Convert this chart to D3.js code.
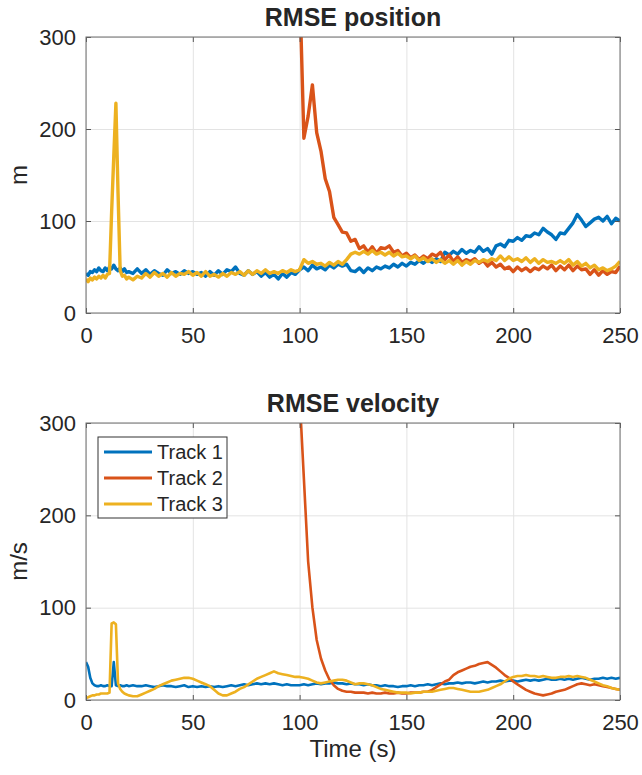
<!DOCTYPE html>
<html>
<head>
<meta charset="utf-8">
<script src="https://cdn.jsdelivr.net/npm/d3@7"></script>
<style>
body { margin: 0; background: #fff; }
text { font-family: "Liberation Sans", Arial, Helvetica, sans-serif; fill: #262626; }
</style>
</head>
<body>
<div id="chart"></div>
<script>
// time grid: 1 s steps for the first 20 s, then 2 s steps
var time = d3.range(0, 20, 1).concat(d3.range(20, 251, 2));
// track 2 only starts at 100 s
var time2 = d3.range(100, 251, 2);

var trackNames = ["Track 1", "Track 2", "Track 3"];
var xTicks = [0, 50, 100, 150, 200, 250];
var yTicks = [0, 100, 200, 300];

// RMSE position (m)
var pos1 = [43, 41, 45, 44, 47, 45, 49, 46, 45, 49, 46, 50, 48, 52, 48, 46, 49, 45, 48, 44,
    45, 43, 48, 43, 47, 42, 46, 43, 41, 47,
    43, 45, 42, 46, 43, 45, 42, 44, 40, 45,
    41, 46, 42, 47, 45, 50, 43, 41, 46, 42,
    45, 40, 44, 39, 42, 37, 43, 39, 44, 42,
    47, 50, 46, 52, 48, 50, 47, 52, 49, 53,
    51, 53, 46, 45, 49, 44, 49, 46, 50, 48,
    51, 49, 53, 50, 54, 51, 55, 53, 57, 54,
    58, 55, 59, 56, 66, 63, 67, 64, 69, 65,
    68, 66, 72, 67, 70, 64, 73, 75, 72, 79,
    78, 82, 79, 84, 83, 87, 85, 92, 88, 85,
    80, 87, 86, 92, 98, 107, 101, 94, 98, 102,
    104, 100, 105, 97, 103, 100];
var pos2 = [360, 190, 214, 248, 196, 176, 146, 132, 104, 96,
    88, 87, 78, 80, 70, 73, 66, 72, 65, 71,
    70, 73, 66, 68, 62, 65, 60, 63, 58, 62,
    59, 64, 62, 66, 58, 63, 56, 61, 55, 58,
    56, 59, 54, 57, 51, 55, 50, 53, 48, 50,
    45, 50, 46, 49, 45, 49, 47, 51, 48, 52,
    46, 51, 47, 52, 46, 51, 47, 48, 42, 47,
    41, 46, 42, 45, 44, 51];
var pos3 = [37, 34, 38, 36, 39, 37, 40, 38, 41, 38, 42, 43, 110, 170, 228, 130, 46, 40, 41, 37,
    39, 36, 40, 38, 43, 39, 44, 40, 43, 39,
    44, 40, 43, 42, 45, 41, 44, 40, 45, 40,
    42, 39, 43, 40, 44, 42, 45, 41, 46, 42,
    46, 43, 47, 43, 45, 43, 46, 44, 47, 45,
    47, 58, 54, 56, 53, 54, 51, 55, 52, 56,
    53, 58, 64, 66, 64, 67, 64, 68, 64, 66,
    63, 66, 62, 65, 61, 62, 59, 62, 57, 60,
    56, 59, 55, 58, 54, 57, 53, 57, 52, 56,
    53, 57, 55, 58, 56, 59, 57, 62, 57, 61,
    57, 59, 56, 60, 55, 59, 54, 58, 55, 56,
    54, 57, 54, 58, 52, 56, 51, 54, 49, 52,
    47, 49, 46, 48, 51, 56];

// RMSE velocity (m/s)
var vel1 = [41, 36, 24, 18, 16, 15, 15, 16, 15, 15, 16, 15, 15, 41, 16, 15, 16, 15, 15, 16,
    15, 16, 15, 15, 16, 15, 14, 15, 16, 15,
    15, 14, 15, 16, 14, 15, 14, 15, 14, 15,
    14, 15, 14, 15, 16, 15, 16, 17, 16, 17,
    18, 17, 18, 17, 18, 17, 16, 17, 16, 16,
    16, 17, 16, 17, 18, 17, 18, 18, 19, 18,
    18, 17, 18, 17, 17, 16, 17, 16, 16, 15,
    16, 15, 15, 14, 15, 15, 16, 15, 16, 16,
    17, 16, 17, 18, 17, 18, 18, 19, 18, 19,
    19, 18, 19, 20, 19, 20, 20, 21, 20, 21,
    21, 20, 21, 22, 21, 22, 21, 22, 23, 22,
    22, 23, 22, 23, 22, 23, 24, 23, 22, 23,
    23, 24, 23, 24, 23, 24];
var vel2 = [330, 240, 150, 100, 65, 45, 32, 22, 16, 12,
    10, 9, 9, 8, 8, 8, 7, 8, 7, 7,
    8, 7, 7, 8, 7, 7, 8, 8, 8, 9,
    9, 11, 14, 17, 20, 22, 27, 30, 32, 34,
    36, 37, 39, 40, 41, 38, 35, 31, 27, 24,
    20, 17, 14, 11, 9, 7, 6, 5, 6, 7,
    9, 10, 11, 13, 15, 17, 18, 17, 16, 17,
    16, 15, 14, 13, 12, 11];
var vel3 = [2, 3, 4, 5, 5, 6, 6, 7, 7, 7, 7, 8, 83, 84, 82, 18, 12, 9, 7, 6,
    5, 4, 4, 6, 8, 10, 12, 15, 17, 19,
    21, 22, 23, 24, 24, 23, 21, 19, 17, 15,
    11, 7, 5, 5, 7, 9, 12, 14, 17, 20,
    23, 25, 27, 29, 31, 29, 28, 27, 26, 25,
    25, 24, 23, 21, 19, 18, 19, 20, 21, 22,
    22, 21, 19, 17, 18, 18, 17, 16, 14, 12,
    11, 10, 9, 8, 8, 8, 7, 8, 8, 9,
    9, 9, 10, 11, 12, 13, 13, 12, 11, 10,
    9, 9, 9, 10, 11, 13, 15, 17, 20, 23,
    25, 26, 26, 27, 26, 26, 25, 26, 25, 24,
    24, 25, 25, 26, 25, 26, 25, 24, 22, 20,
    18, 16, 15, 13, 12, 11];

var colors = ["#0072BD", "#D95319", "#EDB120"];

var svgWidth = 642, svgHeight = 775;
var plotLeft = 86, plotRight = 620;

var panels = [
    { title: "RMSE position", ylabel: "m", top: 37, bottom: 313, lw: 3.4,
      series: [[time, pos1], [time2, pos2], [time, pos3]], legend: false },
    { title: "RMSE velocity", ylabel: "m/s", top: 423, bottom: 700, lw: 2.6,
      series: [[time, vel1], [time2, vel2], [time, vel3]], legend: true }
];

var svg = d3.select("#chart")
    .append("svg")
    .attr("width", svgWidth)
    .attr("height", svgHeight);

var x = d3.scaleLinear().domain([0, 250]).range([plotLeft, plotRight]);

panels.forEach(function (p, pi) {
    var y = d3.scaleLinear().domain([0, 300]).range([p.bottom, p.top]);
    var h = p.bottom - p.top;
    var g = svg.append("g");

    // grid
    var gx = g.append("g")
        .attr("transform", "translate(0," + p.bottom + ")")
        .call(d3.axisBottom(x).tickValues(xTicks).tickSize(-h).tickFormat(""));
    var gy = g.append("g")
        .attr("transform", "translate(" + plotLeft + ",0)")
        .call(d3.axisLeft(y).tickValues(yTicks).tickSize(-(plotRight - plotLeft)).tickFormat(""));
    [gx, gy].forEach(function (a) {
        a.select(".domain").remove();
        a.selectAll("line").attr("stroke", "#e3e3e3").attr("stroke-width", 1);
    });

    // clip
    svg.append("clipPath").attr("id", "clip" + pi)
        .append("rect")
        .attr("x", plotLeft).attr("y", p.top)
        .attr("width", plotRight - plotLeft).attr("height", h);

    var line = d3.line()
        .x(function (d) { return x(d[0]); })
        .y(function (d) { return y(d[1]); });

    p.series.forEach(function (s, si) {
        var pts = s[0].map(function (t, i) { return [t, s[1][i]]; });
        g.append("path")
            .datum(pts)
            .attr("clip-path", "url(#clip" + pi + ")")
            .attr("fill", "none")
            .attr("stroke", colors[si])
            .attr("stroke-width", p.lw)
            .attr("stroke-linejoin", "round")
            .attr("d", line);
    });

    // axes (ticks inward on all sides)
    var ab = g.append("g")
        .attr("transform", "translate(0," + p.bottom + ")")
        .call(d3.axisBottom(x).tickValues(xTicks).tickSize(-5).tickPadding(14));
    var at = g.append("g")
        .attr("transform", "translate(0," + p.top + ")")
        .call(d3.axisTop(x).tickValues(xTicks).tickSize(-5).tickFormat(""));
    var al = g.append("g")
        .attr("transform", "translate(" + plotLeft + ",0)")
        .call(d3.axisLeft(y).tickValues(yTicks).tickSize(-5).tickPadding(10));
    var ar = g.append("g")
        .attr("transform", "translate(" + plotRight + ",0)")
        .call(d3.axisRight(y).tickValues(yTicks).tickSize(-5).tickFormat(""));
    [ab, at, al, ar].forEach(function (a) {
        a.select(".domain").remove();
        a.selectAll("line").attr("stroke", "#555");
        a.selectAll("text")
            .style("font-family", "'Liberation Sans', Arial, sans-serif")
            .style("font-size", "22px")
            .attr("fill", "#262626");
    });

    g.append("rect")
        .attr("x", plotLeft).attr("y", p.top)
        .attr("width", plotRight - plotLeft).attr("height", h)
        .attr("fill", "none")
        .attr("stroke", "#6e6e6e")
        .attr("stroke-width", 1);

    // title
    g.append("text")
        .attr("x", (plotLeft + plotRight) / 2)
        .attr("y", p.top - 11)
        .attr("text-anchor", "middle")
        .style("font-size", "25px")
        .style("font-weight", "bold")
        .attr("fill", "#000")
        .text(p.title);

    // y label
    g.append("text")
        .attr("transform", "translate(27," + (p.top + h / 2) + ") rotate(-90)")
        .attr("text-anchor", "middle")
        .style("font-size", "24px")
        .text(p.ylabel);

    if (p.legend) {
        var lg = g.append("g");
        lg.append("rect")
            .attr("x", 98).attr("y", p.top + 14)
            .attr("width", 129).attr("height", 81)
            .attr("fill", "#fff")
            .attr("stroke", "#333")
            .attr("stroke-width", 1);
        trackNames.forEach(function (name, i) {
            var ly = p.top + 29 + i * 26;
            lg.append("line")
                .attr("x1", 104).attr("x2", 152)
                .attr("y1", ly).attr("y2", ly)
                .attr("stroke", colors[i])
                .attr("stroke-width", 3);
            lg.append("text")
                .attr("x", 157).attr("y", ly)
                .attr("dy", "0.35em")
                .style("font-size", "20px")
                .text(name);
        });
    }
});

// x label
svg.append("text")
    .attr("x", (plotLeft + plotRight) / 2)
    .attr("y", 757)
    .attr("text-anchor", "middle")
    .style("font-size", "24px")
    .text("Time (s)");
</script>
</body>
</html>
